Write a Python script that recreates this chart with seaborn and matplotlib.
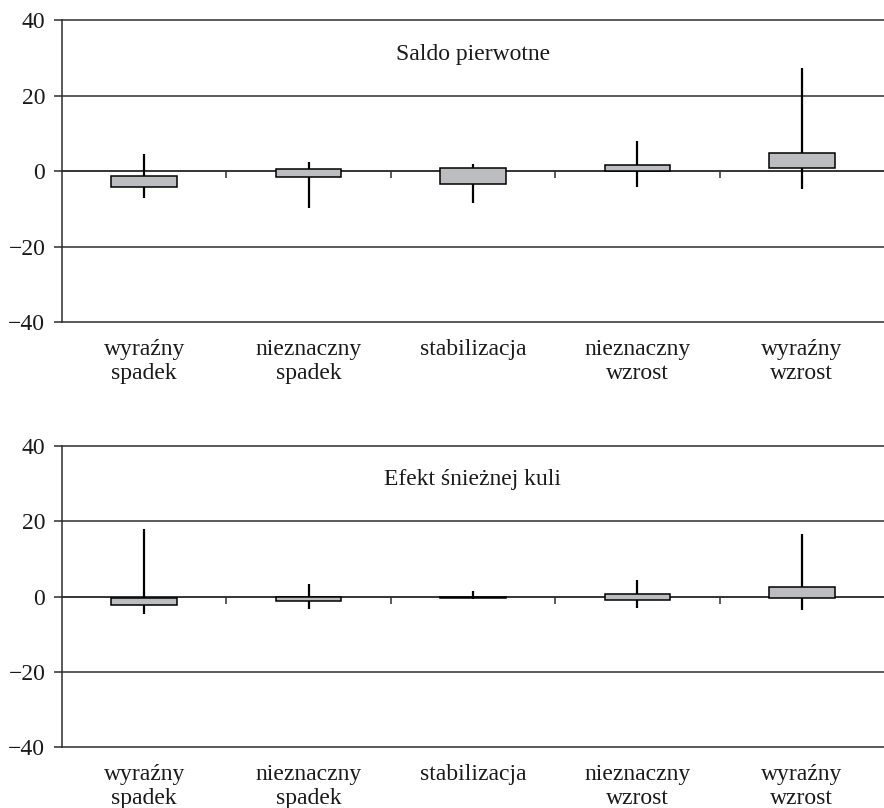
import numpy as np
import pandas as pd
import matplotlib
matplotlib.use("Agg")
import matplotlib.pyplot as plt
import seaborn as sns

# ---------------- data ----------------
categories = ["wyraźny\nspadek", "nieznaczny\nspadek", "stabilizacja",
              "nieznaczny\nwzrost", "wyraźny\nwzrost"]
titles = ["Saldo pierwotne", "Efekt śnieżnej kuli"]

saldo_q1 = [-4.15, -1.6, -3.4, 0.0, 0.7]
saldo_q3 = [-1.4, 0.45, 0.9, 1.7, 4.9]
saldo_min = [-7.1, -9.7, -8.4, -4.3, -4.7]
saldo_max = [4.5, 2.5, 1.8, 7.9, 27.2]

kula_q1 = [-2.2, -1.15, -0.45, -0.9, -0.3]
kula_q3 = [-0.5, 0.0, -0.1, 0.8, 2.6]
kula_min = [-4.6, -3.3, -0.6, -3.0, -3.6]
kula_max = [17.9, 3.4, 1.6, 4.3, 16.7]

y_ticks = [-40, -20, 0, 20, 40]

# ---------------- style ----------------
sns.set_theme(style="white")
plt.rcParams["font.family"] = ["Liberation Serif", "DejaVu Serif"]
plt.rcParams["axes.unicode_minus"] = True

DARK = "#2e2e2e"
BOX = "#bcbdc0"
TXT = "#1a1a1a"
FS = 17

fig = plt.figure(figsize=(8.84, 8.08), dpi=100)
positions = [[0.0701, 0.6015, 0.9299, 0.3737],
             [0.0701, 0.0752, 0.9299, 0.3729]]
panels = [(saldo_q1, saldo_q3, saldo_min, saldo_max),
          (kula_q1, kula_q3, kula_min, kula_max)]

for pos, title, (q1, q3, mn, mx) in zip(positions, titles, panels):
    ax = fig.add_axes(pos)
    df = pd.DataFrame({"cat": categories, "low": q1, "high": q3,
                       "lo": mn, "hi": mx})
    df["h"] = df["high"] - df["low"]
    xs = np.arange(len(categories))

    # whiskers (behind boxes)
    ax.vlines(xs, df["lo"], df["hi"], color="black", lw=1.6, zorder=2.8)
    # boxes
    sns.barplot(data=df, x="cat", y="h", bottom=df["low"].to_numpy(),
                width=0.4, color=BOX, saturation=1, edgecolor="black",
                linewidth=1.1, errorbar=None, ax=ax, zorder=3)

    ax.set_xlabel("")
    ax.set_ylabel("")
    ax.set_xlim(-0.5, len(categories) - 0.5)
    ax.set_ylim(-40, 40)
    ax.set_yticks(y_ticks)
    ax.set_yticklabels([str(t) if t >= 0 else "\u2212" + str(-t) for t in y_ticks])

    ax.set_axisbelow(True)
    ax.yaxis.grid(True, color=DARK, lw=1.1)
    ax.xaxis.grid(False)
    for gl in ax.get_ygridlines():
        gl.set_clip_on(False)

    for s in ["top", "right"]:
        ax.spines[s].set_visible(False)
    ax.spines["left"].set_color(DARK)
    ax.spines["left"].set_linewidth(1.1)
    ax.spines["bottom"].set_position(("data", 0))
    ax.spines["bottom"].set_color(DARK)
    ax.spines["bottom"].set_linewidth(1.1)

    # boundary ticks on the zero line
    ax.set_xticks(xs[:-1] + 0.5)
    ax.set_xticklabels([])
    ax.tick_params(axis="x", length=5, width=1.1, color=DARK, direction="out",
                   bottom=True)
    ax.tick_params(axis="y", length=6, width=1.1, color=DARK, direction="out",
                   left=True, labelsize=FS, labelcolor=TXT, pad=6)

    # category labels at the bottom of the axes
    sec = ax.secondary_xaxis("bottom")
    sec.set_xticks(xs, labels=categories)
    sec.tick_params(length=0, pad=12, labelsize=FS, labelcolor=TXT)
    for lab in sec.get_xticklabels():
        lab.set_linespacing(1.2)
    sec.spines["bottom"].set_visible(False)

    ax.text(0.5, 0.887, title, transform=ax.transAxes, ha="center",
            va="center", fontsize=FS, color=TXT)

fig.savefig("out.png", dpi=100)
